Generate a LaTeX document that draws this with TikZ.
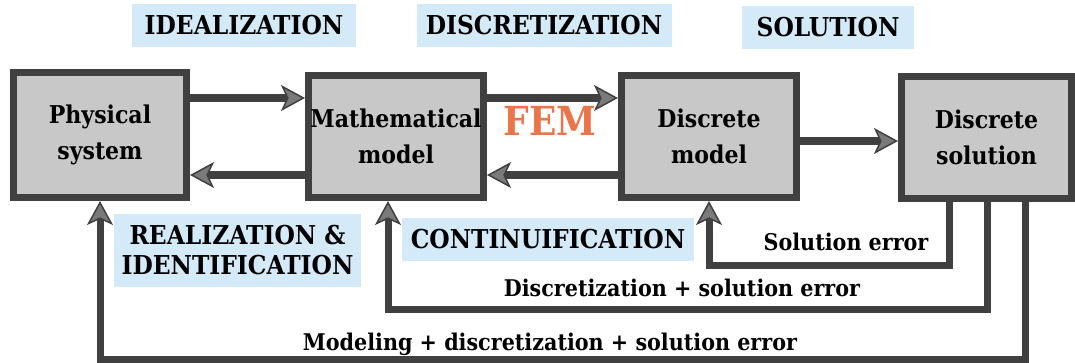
\documentclass[tikz,border=0pt]{standalone}
\usepackage{fontspec}
\setmainfont{DejaVu Serif Condensed}
\usetikzlibrary{arrows.meta,positioning,calc}
\definecolor{feBox}{HTML}{C8C8C8}
\definecolor{feLine}{HTML}{404040}
\definecolor{feTip}{HTML}{7A7A7A}
\definecolor{feTag}{HTML}{D5EAF8}
\definecolor{feRed}{HTML}{EC7449}
\tikzset{
  stage/.style={
    draw=feLine, fill=feBox, line width=7pt, minimum width=175pt, minimum height=122pt,
    inner sep=0pt, align=center, font=\fontsize{24.5}{36}\selectfont\bfseries
  },
  tag/.style={fill=feTag, minimum height=43pt, inner sep=0pt, align=center, font=\fontsize{26}{30}\selectfont\bfseries},
  errtext/.style={font=\fontsize{23}{28}\selectfont\bfseries, anchor=base},
  femtext/.style={font=\fontsize{40}{40}\selectfont\bfseries, text=feRed, anchor=base},
  flow/.style={draw=feLine, line width=8pt, -{Stealth[length=24pt, width=26pt, inset=6pt, line width=1.5pt, fill=feTip]}},
  fback/.style={flow, line width=7pt}
}
\begin{document}
\begin{tikzpicture}[x=1pt, y=-1pt]
  \useasboundingbox (0,0) rectangle (1075,362);
  % blocks
  \node[stage, minimum width=173pt, minimum height=125pt] (phys) at (100,135) {Physical\\system};
  \node[stage] (math) at (396,136.5) {Mathematical\\model};
  \node[stage] (dmod) at (709,136.5) {Discrete\\model};
  \node[stage, minimum width=170pt] (dsol) at (986.5,137.5) {Discrete\\solution};
  % step names
  \node[tag, minimum width=224pt] (ideal) at (244,25) {IDEALIZATION};
  \node[tag, minimum width=255pt] (discr) at (544,25) {DISCRETIZATION};
  \node[tag, minimum width=172pt] (solv) at (828,27.5) {SOLUTION};
  \node[tag, minimum width=247pt, minimum height=73pt] (realid) at (237.5,250.5) {REALIZATION \&\\IDENTIFICATION};
  \node[tag, minimum width=292pt] (contin) at (548,239.5) {CONTINUIFICATION};
  \node[femtext] (fem) at (550,135) {FEM};
  % forward and backward arrows
  \coordinate (hi) at (0,98);
  \coordinate (lo) at (0,175);
  \coordinate (mid) at (0,141);
  \draw[flow] (phys.east |- hi) -- (math.west |- hi);
  \draw[flow] (math.west |- lo) -- (phys.east |- lo);
  \draw[flow] (math.east |- hi) -- (dmod.west |- hi);
  \draw[flow] (dmod.west |- lo) -- (math.east |- lo);
  \draw[flow] (dmod.east |- mid) -- (dsol.west |- mid);
  % error loops
  \coordinate (e1) at (949,265.5);
  \coordinate (e2) at (987,309);
  \coordinate (e3) at (1025,359);
  \coordinate (m2) at (388,309);
  \draw[fback] (dsol.south -| e1) -- (e1) -| (dmod.south);
  \draw[fback] (dsol.south -| e2) -- (e2) -- (m2) -- (m2 |- math.south);
  \draw[fback] (dsol.south -| e3) -- (e3) -| (phys.south);
  \node[errtext] (solerr) at (846,250.5) {Solution error};
  \node[errtext] (discerr) at (682,296) {Discretization + solution error};
  \node[errtext] (moderr) at (550,350) {Modeling + discretization + solution error};
\end{tikzpicture}
\end{document}
